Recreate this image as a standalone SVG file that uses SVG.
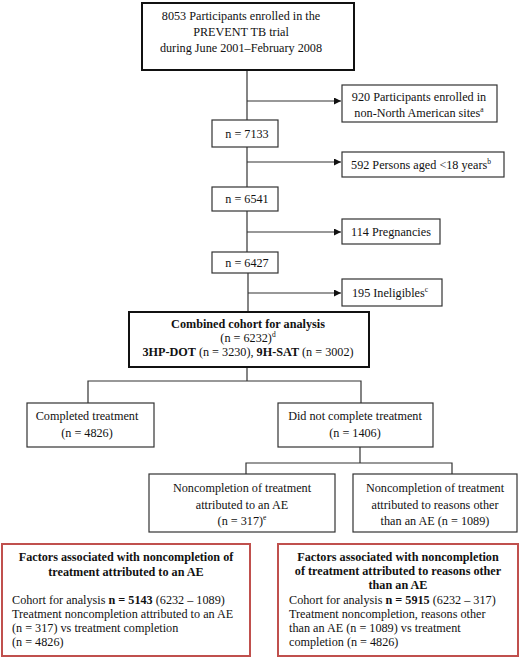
<svg xmlns="http://www.w3.org/2000/svg" width="520" height="658" viewBox="0 0 520 658">
<defs>
<style>
text{font-family:"Liberation Serif","Times New Roman",serif;font-size:12.2px;fill:#111}
.c{text-anchor:middle}
.b{font-weight:bold}
.box{fill:#fff;stroke:#333;stroke-width:1.2}
.tbox{fill:#fff;stroke:#111;stroke-width:2}
.rbox{fill:#fff;stroke:#c0504d;stroke-width:2}
.ln{stroke:#333;stroke-width:1.2;fill:none}
.sup{font-size:7.5px}
</style>
<marker id="ah" viewBox="0 0 10 10" refX="10" refY="5" markerWidth="7" markerHeight="7" markerUnits="userSpaceOnUse" orient="auto">
<path d="M0,0 L10,5 L0,10 z" fill="#111"/>
</marker>
</defs>
<rect width="520" height="658" fill="#fff"/>
<g id="connectors">
<line class="ln" x1="247" y1="70" x2="247" y2="120"/>
<line class="ln" x1="247" y1="101" x2="341" y2="101" marker-end="url(#ah)"/>
<line class="ln" x1="247" y1="147" x2="247" y2="187"/>
<line class="ln" x1="247" y1="162" x2="341" y2="162" marker-end="url(#ah)"/>
<line class="ln" x1="247" y1="211" x2="247" y2="252"/>
<line class="ln" x1="247" y1="232" x2="341" y2="232" marker-end="url(#ah)"/>
<line class="ln" x1="248" y1="273" x2="248" y2="312"/>
<line class="ln" x1="248" y1="293" x2="341" y2="293" marker-end="url(#ah)"/>
<polyline class="ln" points="247,367 247,381"/>
<polyline class="ln" points="88,403 88,381 361,381 361,403"/>
<polyline class="ln" points="360,447 360,463"/>
<polyline class="ln" points="246,474 246,463 452,463 452,474"/>
</g>
<g id="n-enrolled">
<rect class="tbox" x="142" y="3" width="212" height="67"/>
<text class="c" x="241" y="20">8053 Participants enrolled in the</text>
<text class="c" x="241" y="36">PREVENT TB trial</text>
<text class="c" x="241" y="52">during June 2001–February 2008</text>
</g>
<g id="n-920">
<rect class="box" x="342" y="85" width="155" height="37"/>
<text class="c" x="419" y="101">920 Participants enrolled in</text>
<text class="c" x="419" y="117">non-North American sites<tspan class="sup" dy="-5">a</tspan></text>
</g>
<g id="n-7133">
<rect class="box" x="212" y="120" width="66" height="27"/>
<text class="c" x="247" y="138">n = 7133</text>
</g>
<g id="n-592">
<rect class="box" x="342" y="152" width="162" height="25"/>
<text class="c" x="421" y="169">592 Persons aged &lt;18 years<tspan class="sup" dy="-5">b</tspan></text>
</g>
<g id="n-6541">
<rect class="box" x="212" y="187" width="66" height="24"/>
<text class="c" x="247" y="203">n = 6541</text>
</g>
<g id="n-114">
<rect class="box" x="342" y="219" width="98" height="25"/>
<text class="c" x="391" y="236">114 Pregnancies</text>
</g>
<g id="n-6427">
<rect class="box" x="212" y="252" width="66" height="21"/>
<text class="c" x="247" y="267">n = 6427</text>
</g>
<g id="n-195">
<rect class="box" x="342" y="279" width="100" height="27"/>
<text class="c" x="390" y="297">195 Ineligibles<tspan class="sup" dy="-5">c</tspan></text>
</g>
<g id="n-combined">
<rect class="tbox" x="129" y="312" width="240" height="55"/>
<text class="c b" x="248" y="328">Combined cohort for analysis</text>
<text class="c" x="248" y="342">(n = 6232)<tspan class="sup" dy="-5">d</tspan></text>
<text class="c" x="248" y="356"><tspan class="b">3HP-DOT</tspan> (n = 3230), <tspan class="b">9H-SAT</tspan> (n = 3002)</text>
</g>
<g id="n-completed">
<rect class="box" x="27" y="403" width="127" height="44"/>
<text class="c" x="87" y="420">Completed treatment</text>
<text class="c" x="87" y="437">(n = 4826)</text>
</g>
<g id="n-notcomplete">
<rect class="box" x="278" y="403" width="155" height="44"/>
<text class="c" x="355" y="420">Did not complete treatment</text>
<text class="c" x="355" y="437">(n = 1406)</text>
</g>
<g id="n-ae">
<rect class="box" x="149" y="474" width="186" height="58"/>
<text class="c" x="242" y="492">Noncompletion of treatment</text>
<text class="c" x="242" y="509">attributed to an AE</text>
<text class="c" x="242" y="525">(n = 317)<tspan class="sup" dy="-5">e</tspan></text>
</g>
<g id="n-other">
<rect class="box" x="353" y="474" width="164" height="58"/>
<text class="c" x="435" y="492">Noncompletion of treatment</text>
<text class="c" x="435" y="509">attributed to reasons other</text>
<text class="c" x="435" y="525">than an AE (n = 1089)</text>
</g>
<g id="n-factors-ae">
<rect class="rbox" x="2" y="544" width="248" height="112"/>
<text class="c b" x="126" y="561">Factors associated with noncompletion of</text>
<text class="c b" x="126" y="576">treatment attributed to an AE</text>
<text x="12" y="604">Cohort for analysis <tspan class="b">n = 5143</tspan> (6232 – 1089)</text>
<text x="12" y="618">Treatment noncompletion attributed to an AE</text>
<text x="12" y="632">(n = 317) vs treatment completion</text>
<text x="12" y="646">(n = 4826)</text>
</g>
<g id="n-factors-other">
<rect class="rbox" x="278" y="544" width="240" height="112"/>
<text class="c b" x="398" y="561">Factors associated with noncompletion</text>
<text class="c b" x="398" y="575">of treatment attributed to reasons other</text>
<text class="c b" x="398" y="589">than an AE</text>
<text x="289" y="604">Cohort for analysis <tspan class="b">n = 5915</tspan> (6232 – 317)</text>
<text x="289" y="618">Treatment noncompletion, reasons other</text>
<text x="289" y="632">than an AE (n = 1089) vs treatment</text>
<text x="289" y="646">completion (n = 4826)</text>
</g>
</svg>
